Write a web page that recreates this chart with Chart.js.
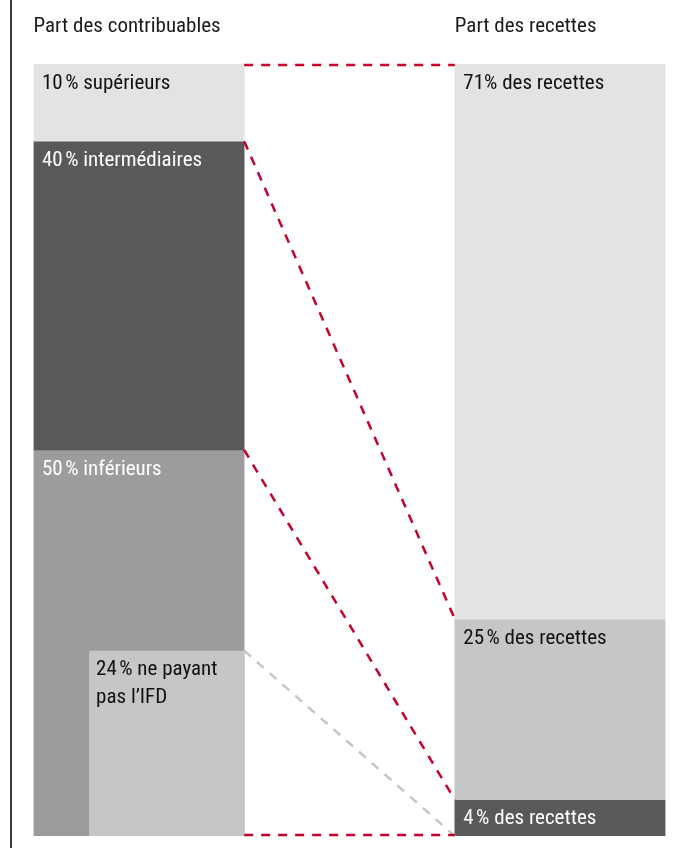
<!DOCTYPE html>
<html>
<head>
<meta charset="utf-8">
<script src="https://cdn.jsdelivr.net/npm/chart.js@4"></script>
<style>
  body { margin: 0; background: #fff; }
  .wrap { position: relative; width: 675px; height: 848px; }
  .rule { position: absolute; left: 10px; top: 0; width: 2px; height: 848px; background: #3c3c3c; }
  canvas { position: absolute; left: 0; top: 0; }
</style>
</head>
<body>
<div class="wrap">
  <div class="rule"></div>
  <canvas id="irppChart" width="675" height="848"></canvas>
</div>
<script>
// columns: taxpayers | gap | revenue
const columns = ["Part des contribuables", "", "Part des recettes"];

// taxpayer groups, top to bottom
const taxpayerLabels = ["10\u202f% supérieurs", "40\u202f% intermédiaires", "50\u202f% inférieurs"];
const taxpayerShares = [10, 40, 50];

// revenue shares, top to bottom (as drawn)
const revenueLabels = ["71% des recettes", "25\u202f% des recettes", "4\u202f% des recettes"];
const revenueShares = [71.9, 23.4, 4.7];

// taxpayers not paying the IFD (inside the lower 50 %)
const nonPayingLabel = ["24\u202f% ne payant", "pas l\u2019IFD"];
const nonPayingShare = 24;

// dashed links: cumulative value on the left -> cumulative value on the right
const linkFrom = [100, 90, 50, 24, 0];
const linkTo = [100, 28.1, 4.7, 0, 0];
const linkMuted = [false, false, false, true, false];

const blockColors = ["#e2e3e3", "#59595b", "#9c9c9e"];
const revenueColors = ["#e2e3e3", "#c5c6c8", "#59595b"];
const textColors = { "#e2e3e3": "#111", "#c5c6c8": "#111", "#59595b": "#fff", "#9c9c9e": "#fff" };
const FONT = '21px "Roboto Condensed", "Liberation Sans Narrow", sans-serif';

// turn top-to-bottom shares into floating [start, end] ranges
function ranges(shares) {
  let top = shares.reduce((a, b) => a + b, 0);
  return shares.map(s => { const r = [top - s, top]; top -= s; return r; });
}

const datasets = [];
datasets.push({
  label: nonPayingLabel.join(" "),
  lines: nonPayingLabel,
  data: [[0, nonPayingShare], null, null],
  backgroundColor: "#c5c6c8",
  barPercentage: 0.736,
  alignRight: true,
  order: 0
});
ranges(taxpayerShares).forEach((r, i) => datasets.push({
  label: taxpayerLabels[i], lines: [taxpayerLabels[i]],
  data: [r, null, null], backgroundColor: blockColors[i], order: 1
}));
ranges(revenueShares).forEach((r, i) => datasets.push({
  label: revenueLabels[i], lines: [revenueLabels[i]],
  data: [null, null, r], backgroundColor: revenueColors[i], order: 1
}));

const shapes = {
  id: "shapes",
  beforeDatasetsDraw(chart) {
    // push the narrow 24 % block against the right edge of its column
    chart.data.datasets.forEach((ds, di) => {
      if (!ds.alignRight) return;
      const el = chart.getDatasetMeta(di).data[0];
      const parent = chart.getDatasetMeta(1).data[0];
      el.x = parent.x + parent.width / 2 - el.width / 2;
    });
  },
  afterDatasetsDraw(chart) {
    const { ctx, scales: { y } } = chart;
    const left = chart.getDatasetMeta(1).data[0];
    const right = chart.getDatasetMeta(4).data[2];
    const x0 = left.x + left.width / 2;
    const x1 = right.x - right.width / 2;

    ctx.save();
    ctx.lineWidth = 2.5;
    ctx.setLineDash([9, 8]);
    linkFrom.forEach((v, i) => {
      ctx.strokeStyle = linkMuted[i] ? "#c5c6c8" : "#c4022c";
      let ya = y.getPixelForValue(v), yb = y.getPixelForValue(linkTo[i]);
      if (v === 100) { ya += 1; yb += 1; }
      if (v === 0 && linkTo[i] === 0 && !linkMuted[i]) { ya -= 1; yb -= 1; }
      ctx.beginPath();
      ctx.moveTo(x0, ya);
      ctx.lineTo(x1, yb);
      ctx.stroke();
    });
    ctx.setLineDash([]);

    // block labels
    ctx.font = FONT;
    ctx.textBaseline = "alphabetic";
    chart.data.datasets.forEach((ds, di) => {
      chart.getDatasetMeta(di).data.forEach((el, idx) => {
        if (!ds.data[idx]) return;
        const top = Math.min(el.y, el.base);
        const lx = el.x - el.width / 2 + (ds.alignRight ? 7 : 8.5);
        ctx.fillStyle = textColors[ds.backgroundColor];
        ds.lines.forEach((t, k) => ctx.fillText(t, lx, top + 24.5 + k * 28));
      });
    });

    // column titles
    ctx.fillStyle = "#1a1a1a";
    [[left, columns[0]], [right, columns[2]]].forEach(([el, t]) => {
      ctx.fillText(t, el.x - el.width / 2, 31.5);
    });
    ctx.restore();
  }
};

new Chart(document.getElementById("irppChart"), {
  type: "bar",
  data: { labels: columns, datasets },
  options: {
    responsive: false,
    animation: false,
    events: [],
    layout: { padding: { left: 33.5, right: 9.5, top: 64, bottom: 12 } },
    datasets: { bar: { categoryPercentage: 1, barPercentage: 1, borderWidth: 0, borderSkipped: false } },
    plugins: { legend: { display: false }, tooltip: { enabled: false } },
    scales: {
      x: { display: false, stacked: true },
      y: { display: false, stacked: false, min: 0, max: 100 }
    }
  },
  plugins: [shapes]
});
</script>
</body>
</html>
